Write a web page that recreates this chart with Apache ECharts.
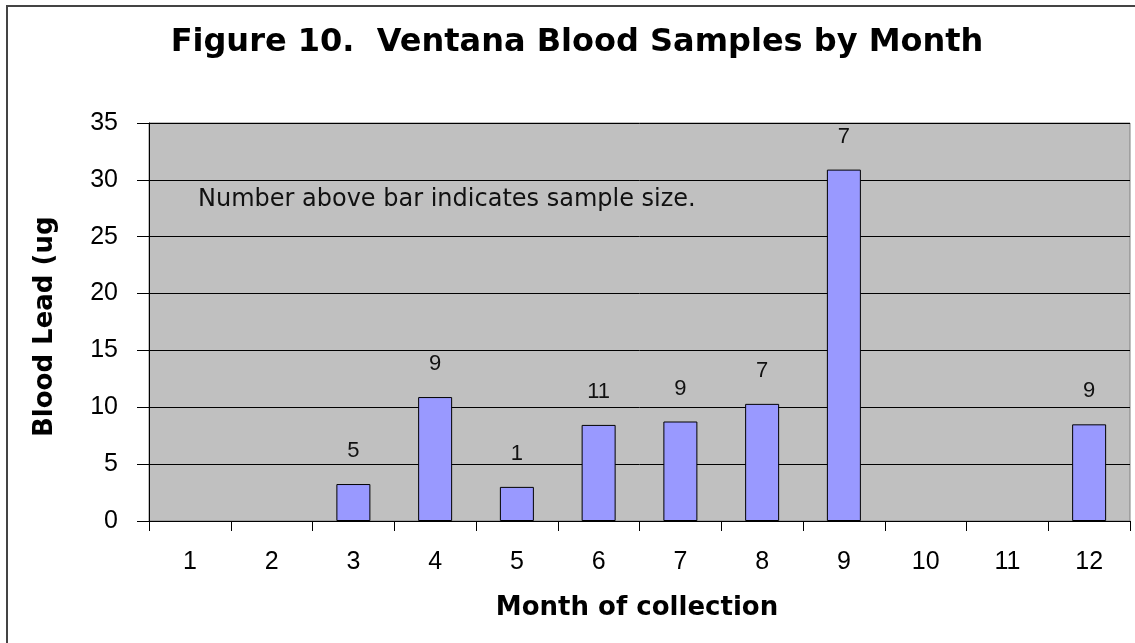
<!DOCTYPE html>
<html>
<head>
<meta charset="utf-8">
<style>html,body{margin:0;padding:0;background:#fff}#chart{width:1135px;height:643px}</style>
<script src="https://cdn.jsdelivr.net/npm/echarts@6/dist/echarts.min.js"></script>
</head>
<body>
<div id="chart"></div>
<script>
// Data
const titleText = 'Figure 10.  Ventana Blood Samples by Month';
const yAxisName = 'Blood Lead (ug';
const xAxisName = 'Month of collection';
const noteText = 'Number above bar indicates sample size.';
const months = ['1','2','3','4','5','6','7','8','9','10','11','12'];
const bloodLead = [null, null, 3.25, 10.9, 3.0, 8.45, 8.75, 10.3, 30.9, null, null, 8.5];
const sampleSizes = [null, null, 5, 9, 1, 11, 9, 7, 7, null, null, 9];
const yTicks = { min: 0, max: 35, interval: 5 };

const chart = echarts.init(document.getElementById('chart'));
const arial = 'Liberation Sans, Arial, sans-serif';
const wide = 'DejaVu Sans, Verdana, sans-serif';

chart.setOption({
  backgroundColor: '#ffffff',
  animation: false,
  grid: {
    left: 149, right: 5, top: 123, bottom: 122,
    show: true, backgroundColor: '#C0C0C0', borderColor: '#808080', borderWidth: 1
  },
  xAxis: {
    type: 'category',
    data: months,
    boundaryGap: true,
    axisLine: { lineStyle: { color: '#000', width: 1 } },
    axisTick: { show: true, length: 10, alignWithLabel: false, lineStyle: { color: '#000' } },
    axisLabel: { color: '#000', fontFamily: arial, fontSize: 25, margin: 29 },
    splitLine: { show: false }
  },
  yAxis: {
    type: 'value',
    min: yTicks.min, max: yTicks.max, interval: yTicks.interval,
    axisLine: { show: true, lineStyle: { color: '#000', width: 1 } },
    axisTick: { show: true, length: 12, lineStyle: { color: '#000' } },
    axisLabel: { color: '#000', fontFamily: arial, fontSize: 25, margin: 31 },
    splitLine: { show: true, lineStyle: { color: '#000', width: 1 } }
  },
  series: [{
    type: 'bar',
    data: bloodLead,
    barWidth: 34,
    itemStyle: { color: '#9999FF', borderColor: '#000', borderWidth: 1 },
    label: {
      show: true,
      position: 'top',
      distance: 22,
      color: '#111',
      fontFamily: arial,
      fontSize: 22,
      formatter: p => (sampleSizes[p.dataIndex] == null ? '' : String(sampleSizes[p.dataIndex]))
    }
  }],
  graphic: [
    {
      type: 'rect', silent: true, z: -1,
      shape: { x: 7, y: 6, width: 1200, height: 700 },
      style: { fill: 'none', stroke: '#444', lineWidth: 2 }
    },
    {
      type: 'text', x: 577, y: 43,
      style: { text: titleText, font: 'bold 32px ' + wide, fill: '#000', textAlign: 'center', textVerticalAlign: 'middle' }
    },
    {
      type: 'text', x: 198, y: 200, z: 10,
      style: { text: noteText, font: '24px ' + wide, fill: '#111', textAlign: 'left', textVerticalAlign: 'middle' }
    },
    {
      type: 'text', x: 637, y: 608,
      style: { text: xAxisName, font: 'bold 26px ' + wide, fill: '#000', textAlign: 'center', textVerticalAlign: 'middle' }
    },
    {
      type: 'text', x: 45, y: 437, rotation: Math.PI / 2,
      style: { text: yAxisName, font: 'bold 26px ' + wide, fill: '#000', textAlign: 'left', textVerticalAlign: 'middle' }
    }
  ]
});
</script>
</body>
</html>
